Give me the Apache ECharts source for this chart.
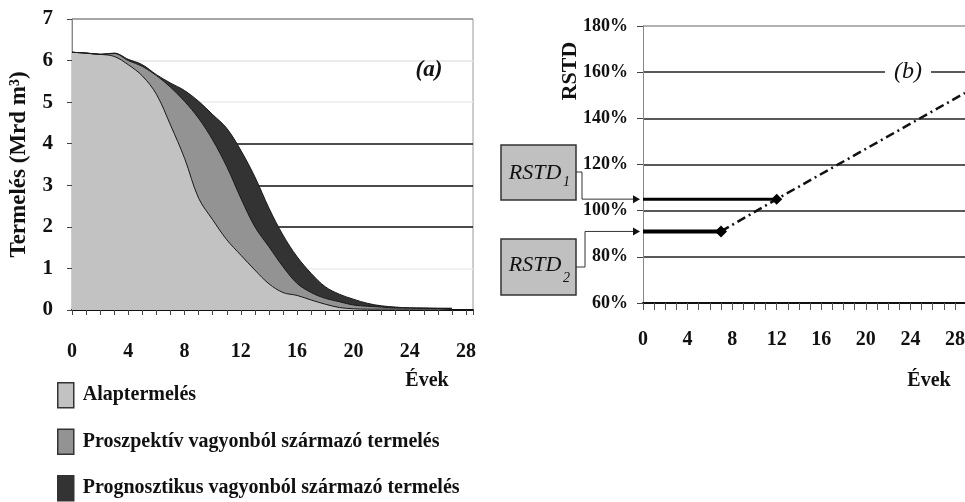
<!DOCTYPE html>
<html><head><meta charset="utf-8">
<script src="https://cdn.jsdelivr.net/npm/echarts@6/dist/echarts.min.js"></script>
<style>html,body{margin:0;padding:0;background:#fff}#c{width:965px;height:502px}</style>
</head><body><div id="c"></div>
<script>
// ---- data (a) ----
const years = [0,1,2,3,4,5,6,7,8,9,10,11,12,13,14,15,16,17,18,19,20,21,22,23,24,25,26,27];
const baseProduction =        [6.20,6.18,6.15,6.10,5.90,5.63,5.19,4.45,3.65,2.69,2.17,1.69,1.32,0.96,0.63,0.42,0.35,0.24,0.14,0.06,0.03,0.02,0.02,0.02,0.02,0.02,0.02,0.02];
const prospectiveProduction = [0,0,0,0.07,0.10,0.23,0.45,0.91,1.37,1.92,1.92,1.76,1.37,1.04,0.89,0.62,0.29,0.18,0.14,0.14,0.09,0.07,0.05,0.03,0.03,0.02,0.02,0.02];
const prognosticProduction =  [0,0,0,0.01,0.03,0.04,0.02,0.10,0.26,0.41,0.61,0.92,1.15,1.20,0.93,0.76,0.64,0.46,0.28,0.18,0.14,0.07,0.03,0.02,0.00,0.01,0.00,0.00];
const seriesNames = ['Alaptermelés','Proszpektív vagyonból származó termelés','Prognosztikus vagyonból származó termelés'];
const xTickLabels = [0,4,8,12,16,20,24,28];
// ---- data (b) ----
const rstd1Line = [[0,105],[12,105]];
const rstd2Line = [[0,91],[7,91]];
const rstdTrend = [[7,91],[12,105],[28.9,151]];

const F = '"Liberation Serif","Times New Roman",serif';
const xFmt = v => xTickLabels.indexOf(v) >= 0 ? String(v) : '';
const lbl = (size, margin) => ({fontFamily:F, fontWeight:'bold', fontSize:size, color:'#111', margin:margin});

const chart = echarts.init(document.getElementById('c'), null, {renderer:'canvas'});
const colors = ['#c2c2c2','#939393','#333333'];
const layers = [baseProduction, prospectiveProduction, prognosticProduction];
// cumulative (stacked) levels, computed from the series values
const cumulative = layers.map((_, k) => years.map((y, i) => {
  let s = 0; for (let j = 0; j <= k; j++) s += layers[j][i]; return [y, +s.toFixed(3)];
}));

const areaSeries = [2,1,0].map(k => ({
  name:seriesNames[k], type:'line', xAxisIndex:0, yAxisIndex:0,
  symbol:'none', smooth:0.35,
  itemStyle:{color:colors[k]},
  lineStyle:{color:'#1a1a1a', width:1},
  areaStyle:{color:colors[k], opacity:1},
  data: cumulative[k]
}));

const option = {
  animation:false,
  grid:[
    {left:72, right:492, top:19, bottom:192, show:true, borderColor:'#9a9a9a', borderWidth:1, outerBoundsMode:'none', containLabel:false},
    {left:643, right:0, top:26, bottom:199, outerBoundsMode:'none', containLabel:false}
  ],
  legend:{
    data:seriesNames, orient:'vertical', left:57, top:382, bottom:0, padding:0, itemWidth:16, itemHeight:25, itemGap:20,
    icon:'rect', selectedMode:false,
    itemStyle:{borderColor:'#333', borderWidth:1.5},
    textStyle:{fontFamily:F, fontWeight:'bold', fontSize:20, color:'#111', padding:[0,0,0,4]}
  },
  xAxis:[
    {gridIndex:0, type:'value', min:0, max:28.5, interval:1,
     axisLine:{lineStyle:{color:'#111', width:2}},
     axisTick:{length:5, lineStyle:{color:'#444'}},
     axisLabel:Object.assign(lbl(20,32), {formatter:xFmt}),
     splitLine:{show:false}},
    {gridIndex:1, type:'value', min:0, max:28.9, interval:1,
     axisLine:{lineStyle:{color:'#111', width:2}},
     axisTick:{length:7, lineStyle:{color:'#555'}},
     axisLabel:Object.assign(lbl(20,27), {formatter:xFmt}),
     splitLine:{show:false}}
  ],
  yAxis:[
    {gridIndex:0, type:'value', min:0, max:7, interval:1,
     axisLine:{show:true, lineStyle:{color:'#888', width:1}},
     axisTick:{show:true, length:5, lineStyle:{color:'#444'}},
     axisLabel:lbl(21,19),
     splitLine:{show:true, lineStyle:{width:1.5, color:['#111','#ececec','#111','#111','#111','#ececec','#e4e4e4','#9a9a9a']}},
     name:'Termelés (Mrd m³)', nameLocation:'middle', nameGap:41,
     nameTextStyle:{fontFamily:F, fontWeight:'bold', fontSize:23, color:'#111'}},
    {gridIndex:1, type:'value', min:60, max:180, interval:20,
     axisLine:{show:true, lineStyle:{color:'#888', width:1}},
     axisTick:{show:true, length:6, lineStyle:{color:'#444'}},
     axisLabel:Object.assign(lbl(18,15), {formatter:'{value}%'}),
     splitLine:{show:true, lineStyle:{width:1.5, color:['#111','#222','#222','#222','#222','#222','#9a9a9a']}}}
  ],
  series: areaSeries.concat([
    {name:'RSTD1', type:'line', xAxisIndex:1, yAxisIndex:1, data:rstd1Line,
     lineStyle:{color:'#000', width:3}, itemStyle:{color:'#000'},
     symbol:'diamond', symbolSize:(v,p)=>p.dataIndex===1?11:0, z:5},
    {name:'RSTD2', type:'line', xAxisIndex:1, yAxisIndex:1, data:rstd2Line,
     lineStyle:{color:'#000', width:4}, itemStyle:{color:'#000'},
     symbol:'diamond', symbolSize:(v,p)=>p.dataIndex===1?12:0, z:5},
    {name:'trend', type:'line', xAxisIndex:1, yAxisIndex:1, data:rstdTrend,
     lineStyle:{color:'#111', width:2.5, type:[9,4,2,4]}, symbol:'none', z:4}
  ])
};
chart.setOption(option);

const p1 = chart.convertToPixel({xAxisIndex:1, yAxisIndex:1}, rstd1Line[0]);
const p2 = chart.convertToPixel({xAxisIndex:1, yAxisIndex:1}, rstd2Line[0]);
const txt = (x,y,t,opt) => ({type:'text', x:x, y:y, z:100, style:Object.assign({text:t, fontFamily:F, fill:'#111', align:'center', verticalAlign:'middle'}, opt||{})});
const arrowHead = (p) => ({type:'polygon', z:100, shape:{points:[[p[0]-10,p[1]-4],[p[0]-3,p[1]],[p[0]-10,p[1]+4]]}, style:{fill:'#111'}});

chart.setOption({graphic:[
  txt(429,70,'(a)',{fontSize:23, fontWeight:'bold', fontStyle:'italic'}),
  txt(908,72,'(b)',{fontSize:24, fontStyle:'italic', backgroundColor:'#fff', padding:[0,9]}),
  txt(427,381,'Évek',{fontSize:20, fontWeight:'bold'}),
  txt(929,381,'Évek',{fontSize:20, fontWeight:'bold'}),
  Object.assign(txt(570,71,'RSTD',{fontSize:22, fontWeight:'bold'}), {rotation:Math.PI/2}),
  {type:'rect', z:90, shape:{x:501,y:145,width:75,height:55}, style:{fill:'#c0c0c0', stroke:'#333', lineWidth:1.5}},
  {type:'rect', z:90, shape:{x:501,y:239,width:75,height:56}, style:{fill:'#c0c0c0', stroke:'#333', lineWidth:1.5}},
  txt(535,173,'RSTD',{fontSize:22, fontStyle:'italic'}),
  txt(563,182,'1',{fontSize:14, fontStyle:'italic', align:'left'}),
  txt(535,265,'RSTD',{fontSize:22, fontStyle:'italic'}),
  txt(563,278,'2',{fontSize:14, fontStyle:'italic', align:'left'}),
  {type:'polyline', z:95, shape:{points:[[576,172],[582,172],[582,p1[1]],[p1[0]-8,p1[1]]]}, style:{stroke:'#333', lineWidth:1, fill:null}},
  {type:'polyline', z:95, shape:{points:[[576,267],[585,267],[585,p2[1]],[p2[0]-8,p2[1]]]}, style:{stroke:'#333', lineWidth:1, fill:null}},
  arrowHead(p1), arrowHead(p2)
]});
</script></body></html>
